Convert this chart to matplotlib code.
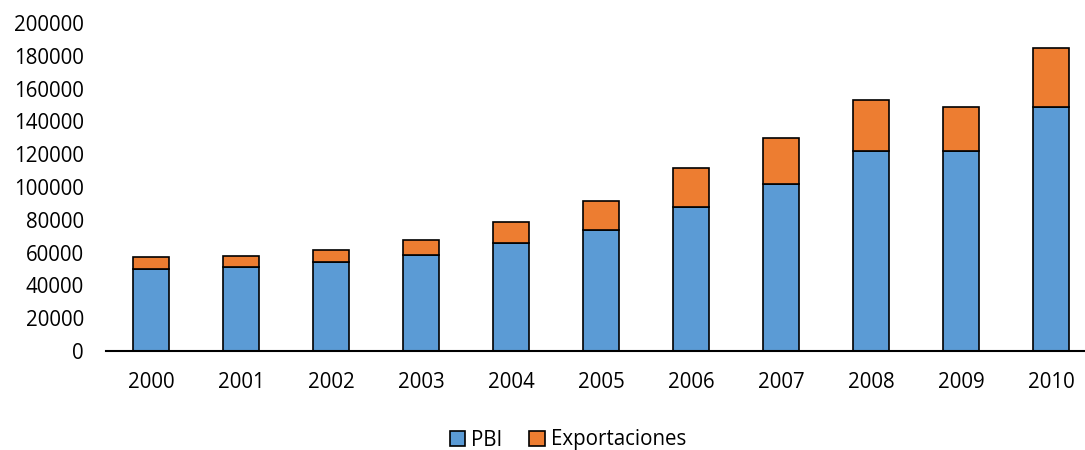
import matplotlib.pyplot as plt
import numpy as np

# datos (millones USD)
anios = ['2000', '2001', '2002', '2003', '2004', '2005', '2006', '2007', '2008', '2009', '2010']
pbi = [50300, 51200, 54100, 58800, 66000, 74000, 87500, 102000, 122000, 122000, 148800]
exportaciones = [7000, 7000, 7700, 9100, 12800, 17400, 23800, 28100, 31000, 26900, 35800]

plt.rcParams['font.family'] = ['Open Sans', 'DejaVu Sans']
plt.rcParams['font.size'] = 14.8

fig = plt.figure(figsize=(10.85, 4.5), dpi=100)
ax = fig.add_axes([106 / 1085, 99 / 450, 990 / 1085, 328 / 450])

x = np.arange(len(anios))
ancho = 0.41
ax.bar(x, pbi, ancho, color='#5B9BD5', edgecolor='black', linewidth=1.2, label='PBI')
ax.bar(x, exportaciones, ancho, bottom=pbi, color='#ED7D31', edgecolor='black',
       linewidth=1.2, label='Exportaciones')

ax.set_xlim(-0.5, len(anios) - 0.5)
ax.set_ylim(0, 200000)
ax.set_yticks(np.arange(0, 200001, 20000))
ax.set_xticks(x)
ax.set_xticklabels(anios)

for s in ['top', 'right', 'left']:
    ax.spines[s].set_visible(False)
ax.spines['bottom'].set_linewidth(1.5)
ax.tick_params(axis='y', length=0, pad=16)
ax.tick_params(axis='x', length=0, pad=15)

ax.legend(loc='center', bbox_to_anchor=(568 / 1085, 10 / 450), bbox_transform=fig.transFigure,
          ncol=2, frameon=False, handlelength=0.75, handleheight=0.75, handletextpad=0.3,
          columnspacing=1.3)

fig.savefig('out.png', dpi=100)
